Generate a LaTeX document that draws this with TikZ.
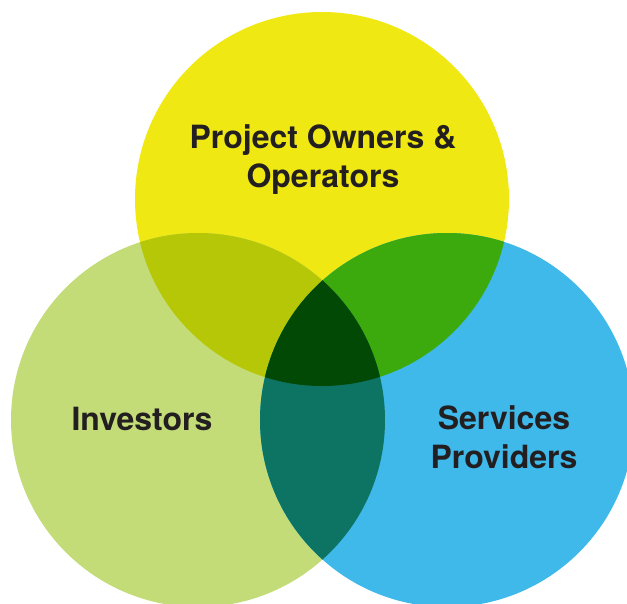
\documentclass[tikz,border=0pt]{standalone}
\usepackage{fontspec}
\setmainfont{TeX Gyre Heros}
\definecolor{yellowset}{HTML}{EFE812}
\definecolor{greenset}{HTML}{C3DC78}
\definecolor{blueset}{HTML}{3FB8EA}
\definecolor{yellowgreen}{HTML}{B6C707}
\definecolor{yellowblue}{HTML}{3CA90D}
\definecolor{greenblue}{HTML}{0D7362}
\definecolor{allthree}{HTML}{024906}
\definecolor{ink}{HTML}{231F20}
\newcommand\circTop{(322,199) circle [radius=187pt]}
\newcommand\circLeft{(198,420) circle [radius=187pt]}
\newcommand\circRight{(447,420) circle [radius=187pt]}
\begin{document}
\begin{tikzpicture}[x=1pt,y=-1pt,
  setlabel/.style={font=\bfseries\fontsize{32}{38.5}\selectfont,
    text=ink, align=center, inner sep=0pt}]
\useasboundingbox (0,0) rectangle (627,603);
% the three sets
\fill[yellowset] \circTop;
\fill[greenset] \circLeft;
\fill[blueset] \circRight;
% pairwise overlaps
\begin{scope}
  \clip \circTop;
  \fill[yellowgreen] \circLeft;
  \fill[yellowblue] \circRight;
\end{scope}
\begin{scope}
  \clip \circLeft;
  \fill[greenblue] \circRight;
\end{scope}
% common core
\begin{scope}
  \clip \circTop;
  \clip \circLeft;
  \fill[allthree] \circRight;
\end{scope}
% set names (base anchor sits on the last line)
\node[setlabel, anchor=base] (owners) at (323,187) {Project Owners \&\\Operators};
\node[setlabel, anchor=base] (investors) at (142,430) {Investors};
\node[setlabel, anchor=base] (providers) at (504,468) {Services\\Providers};
\end{tikzpicture}
\end{document}
